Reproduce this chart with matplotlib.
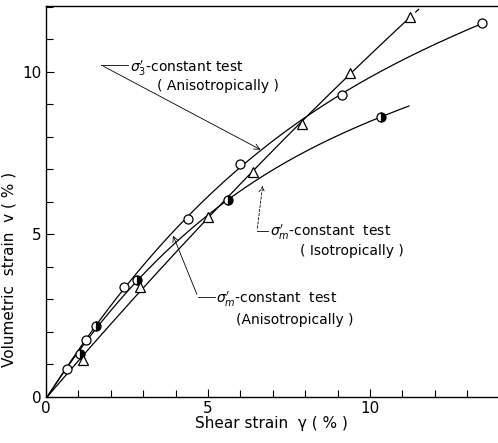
import numpy as np
import matplotlib
matplotlib.use("Agg")
import matplotlib.pyplot as plt
from matplotlib.ticker import MultipleLocator

# sigma3'-constant test (Anisotropically) - open circles
circ_x = [0.65, 1.23, 2.41, 4.38, 5.99, 9.14, 13.46]
circ_y = [0.85, 1.75, 3.38, 5.48, 7.17, 9.29, 11.50]
# sigma_m'-constant test (Isotropically) - half-filled circles
half_x = [1.05, 1.54, 2.81, 5.62, 10.34]
half_y = [1.32, 2.18, 3.60, 6.06, 8.62]
# sigma_m'-constant test (Anisotropically) - triangles
tri_x = [1.14, 2.90, 5.00, 6.39, 7.90, 9.38, 11.23]
tri_y = [1.14, 3.38, 5.54, 6.92, 8.40, 9.97, 11.69]

xticks_major = [0, 5, 10]
yticks_major = [0, 5, 10]

plt.rcParams['font.family'] = ['DejaVu Sans']

fig = plt.figure(figsize=(4.98, 4.43), dpi=100)
ax = fig.add_axes([46/498, 46/443, 451/498, 391/443])
ax.set_xlim(0, 13.92)
ax.set_ylim(0, 12.03)


def fitcurve(xs, ys, xend, deg=3, xstart=0.0):
    x = np.concatenate([[0.0], xs])
    y = np.concatenate([[0.0], ys])
    p = np.polyfit(x, y, deg)
    xx = np.linspace(xstart, xend, 200)
    return xx, np.polyval(p, xx)

lw = 0.9
xx, yy = fitcurve(circ_x, circ_y, circ_x[-1])
ax.plot(xx, yy, color='black', lw=lw)
xx, yy = fitcurve(half_x, half_y, 11.2)
ax.plot(xx, yy, color='black', lw=lw)
xx, yy = fitcurve(tri_x, tri_y, tri_x[-1], deg=2)
ax.plot(xx, yy, color='black', lw=lw)
xe, ye = fitcurve(tri_x, tri_y, 11.5, deg=2, xstart=tri_x[-1] + 0.18)
ax.plot(xe, ye, color='black', lw=lw)

ax.plot(circ_x, circ_y, 'o', ms=6.5, mfc='white', mec='black', mew=0.9, zorder=5)
ax.plot(half_x, half_y, 'o', ms=6.5, mfc='black', mec='black', mew=0.9,
        fillstyle='right', markerfacecoloralt='white', zorder=5)
ax.plot(tri_x, tri_y, '^', ms=7, mfc='white', mec='black', mew=0.9, zorder=5)

ax.spines['right'].set_visible(False)
for s in ['left', 'bottom', 'top']:
    ax.spines[s].set_linewidth(1.0)

ax.set_xticks(xticks_major)
ax.set_yticks(yticks_major)
ax.xaxis.set_minor_locator(MultipleLocator(1))
ax.yaxis.set_minor_locator(MultipleLocator(1))
ax.tick_params(which='both', direction='in', top=False, right=False,
               labelsize=11, length=6, width=0.8, pad=3)
ax.tick_params(which='minor', length=5)

ax.set_xlabel('Shear strain  \u03b3 ( % )', fontsize=11, labelpad=0)
ax.set_ylabel('Volumetric  strain  v ( % )', fontsize=11, labelpad=4)
ax.yaxis.set_label_coords(-0.065, 0.325)

def px2data(px, py):
    return ((px - 46) / 32.4, (397 - py) / 32.5)

fs = 10
# sigma3' label
tx, ty = px2data(130, 68)
ax.text(tx, ty, "$\\sigma_3'$-constant test", fontsize=fs, va='center', ha='left')
tx, ty = px2data(157, 86)
ax.text(tx, ty, "( Anisotropically )", fontsize=fs, va='center', ha='left')
a, b = px2data(128, 65)
c, d = px2data(101, 65)
ax.plot([a, c], [b, d], color='black', lw=0.6)
e, f = px2data(263, 151)
ax.annotate('', xy=(e, f), xytext=(c, d),
            arrowprops=dict(arrowstyle='->', lw=0.6, color='black'))

# sigma_m' isotropic label
tx, ty = px2data(270, 232)
ax.text(tx, ty, "$\\sigma_m'$-constant  test", fontsize=fs, va='center', ha='left')
tx, ty = px2data(300, 251)
ax.text(tx, ty, "( Isotropically )", fontsize=fs, va='center', ha='left')
a, b = px2data(268, 231)
c, d = px2data(257, 231)
ax.plot([a, c], [b, d], color='black', lw=0.6)
e, f = px2data(263, 183)
ax.annotate('', xy=(e, f), xytext=(c, d),
            arrowprops=dict(arrowstyle='->', lw=0.6, color='black', linestyle=(0, (3, 2))))

# sigma_m' anisotropic label
tx, ty = px2data(216, 299)
ax.text(tx, ty, "$\\sigma_m'$-constant  test", fontsize=fs, va='center', ha='left')
tx, ty = px2data(236, 320)
ax.text(tx, ty, "(Anisotropically )", fontsize=fs, va='center', ha='left')
a, b = px2data(215, 297)
c, d = px2data(198, 297)
ax.plot([a, c], [b, d], color='black', lw=0.6)
e, f = px2data(172, 233)
ax.annotate('', xy=(e, f), xytext=(c, d),
            arrowprops=dict(arrowstyle='->', lw=0.6, color='black'))

fig.savefig('out.png', dpi=100)
